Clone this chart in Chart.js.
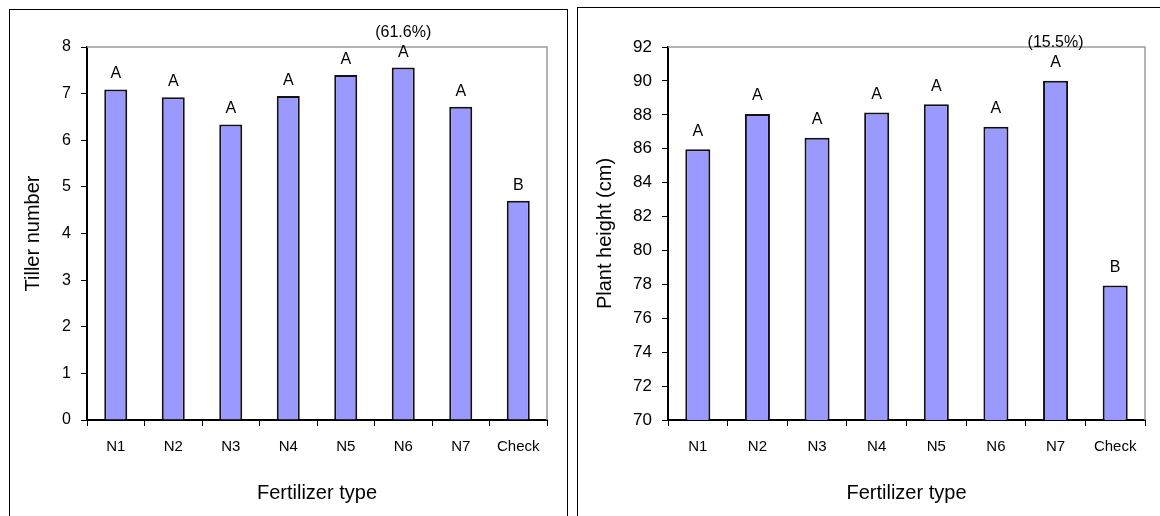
<!DOCTYPE html>
<html><head><meta charset="utf-8">
<script src="https://cdn.jsdelivr.net/npm/chart.js@4.4.0/dist/chart.umd.min.js"></script>
<style>
html,body{margin:0;padding:0;background:#fff;width:1160px;height:516px;overflow:hidden;position:relative;}
.panel{position:absolute;border:1px solid #000;box-sizing:border-box;}
#p1{left:9px;top:9px;width:559px;height:530px;}
#p2{left:577px;top:7px;width:600px;height:530px;}
canvas{position:absolute;}
#c1{left:10px;top:10px;width:556px;height:506px;}
#c2{left:578px;top:8px;width:582px;height:508px;}
</style></head>
<body>
<div class="panel" id="p1"></div><div class="panel" id="p2"></div>
<canvas id="c1" width="556" height="506"></canvas>
<canvas id="c2" width="582" height="508"></canvas>
<script>
const categories = ['N1','N2','N3','N4','N5','N6','N7','Check'];
const tillerValues = [7.09, 6.92, 6.34, 6.95, 7.40, 7.56, 6.72, 4.70];
const tillerLetters = ['A','A','A','A','A','A','A','B'];
const tillerNotes = ['','','','','','(61.6%)','',''];
const heightValues = [85.97, 88.05, 86.65, 88.13, 88.62, 87.30, 90.01, 77.93];
const heightLetters = ['A','A','A','A','A','A','A','B'];
const heightNotes = ['','','','','','','(15.5%)',''];
const tillerAxis = {min:0, max:8, step:1, title:'Tiller number'};
const heightAxis = {min:70, max:92, step:2, title:'Plant height (cm)'};
const xTitle = 'Fertilizer type';

const FONT = '"Liberation Sans", Arial, sans-serif';

const framePlugin = {
  id:'frame',
  beforeDatasetsDraw(chart){
    const {ctx, chartArea:a} = chart;
    ctx.save();
    ctx.strokeStyle = '#9a9a9a';
    ctx.lineWidth = 1.5;
    ctx.beginPath();
    ctx.moveTo(a.left, a.top);
    ctx.lineTo(a.right, a.top);
    ctx.lineTo(a.right, a.bottom);
    ctx.stroke();
    ctx.restore();
  }
};

const labelPlugin = {
  id:'barLabels',
  afterDatasetsDraw(chart, args, opts){
    const meta = chart.getDatasetMeta(0);
    const ctx = chart.ctx;
    ctx.save();
    ctx.fillStyle = '#000';
    ctx.font = '16px ' + FONT;
    ctx.textAlign = 'center';
    ctx.textBaseline = 'alphabetic';
    meta.data.forEach((bar, i) => {
      const yb = bar.y - opts.gap;
      ctx.fillText(opts.letters[i], bar.x, yb);
      if (opts.notes[i]) ctx.fillText(opts.notes[i], bar.x, yb - 20);
    });
    ctx.restore();
  }
};

function makeChart(id, values, letters, notes, axis, cfg){
  return new Chart(document.getElementById(id), {
    type:'bar',
    data:{labels:categories, datasets:[{
      data:values,
      backgroundColor:'#9999FF',
      borderColor:'#111',
      borderWidth:2,
      categoryPercentage:1,
      barPercentage:cfg.barPct
    }]},
    options:{
      responsive:false,
      animation:false,
      devicePixelRatio:1,
      layout:{padding:{top:cfg.padTop, right:cfg.padRight, left:0, bottom:0}},
      plugins:{legend:{display:false}, tooltip:{enabled:false},
        barLabels:{letters:letters, notes:notes, gap:cfg.gap}},
      scales:{
        x:{
          offset:true,
          grid:{offset:true, drawOnChartArea:false, drawTicks:true, tickLength:6, color:'#000', lineWidth:1},
          border:{color:'#000', width:2},
          ticks:{color:'#000', font:{family:FONT, size:15}, padding:12, maxRotation:0, autoSkip:false},
          title:{display:true, text:xTitle, color:'#000', font:{family:FONT, size:20}, padding:{top:0, bottom:11}},
          afterFit(s){ s.height = 96; }
        },
        y:{
          min:axis.min, max:axis.max,
          grid:{drawOnChartArea:false, drawTicks:true, tickLength:6, color:'#000', lineWidth:1},
          border:{color:'#000', width:2},
          ticks:{stepSize:axis.step, color:'#000', font:{family:FONT, size:cfg.tickSize}, padding:10},
          title:{display:true, text:axis.title, color:'#000', font:{family:FONT, size:20}, padding:{top:cfg.titlePad, bottom:0}},
          afterFit(s){ s.width = cfg.yWidth; }
        }
      }
    },
    plugins:[framePlugin, labelPlugin]
  });
}

makeChart('c1', tillerValues, tillerLetters, tillerNotes, tillerAxis,
  {barPct:0.4, padTop:37, padRight:19, yWidth:77, titlePad:11, gap:11, tickSize:16});
makeChart('c2', heightValues, heightLetters, heightNotes, heightAxis,
  {barPct:0.42, padTop:39, padRight:15, yWidth:90, titlePad:15, gap:13.5, tickSize:17});
</script>
</body></html>
